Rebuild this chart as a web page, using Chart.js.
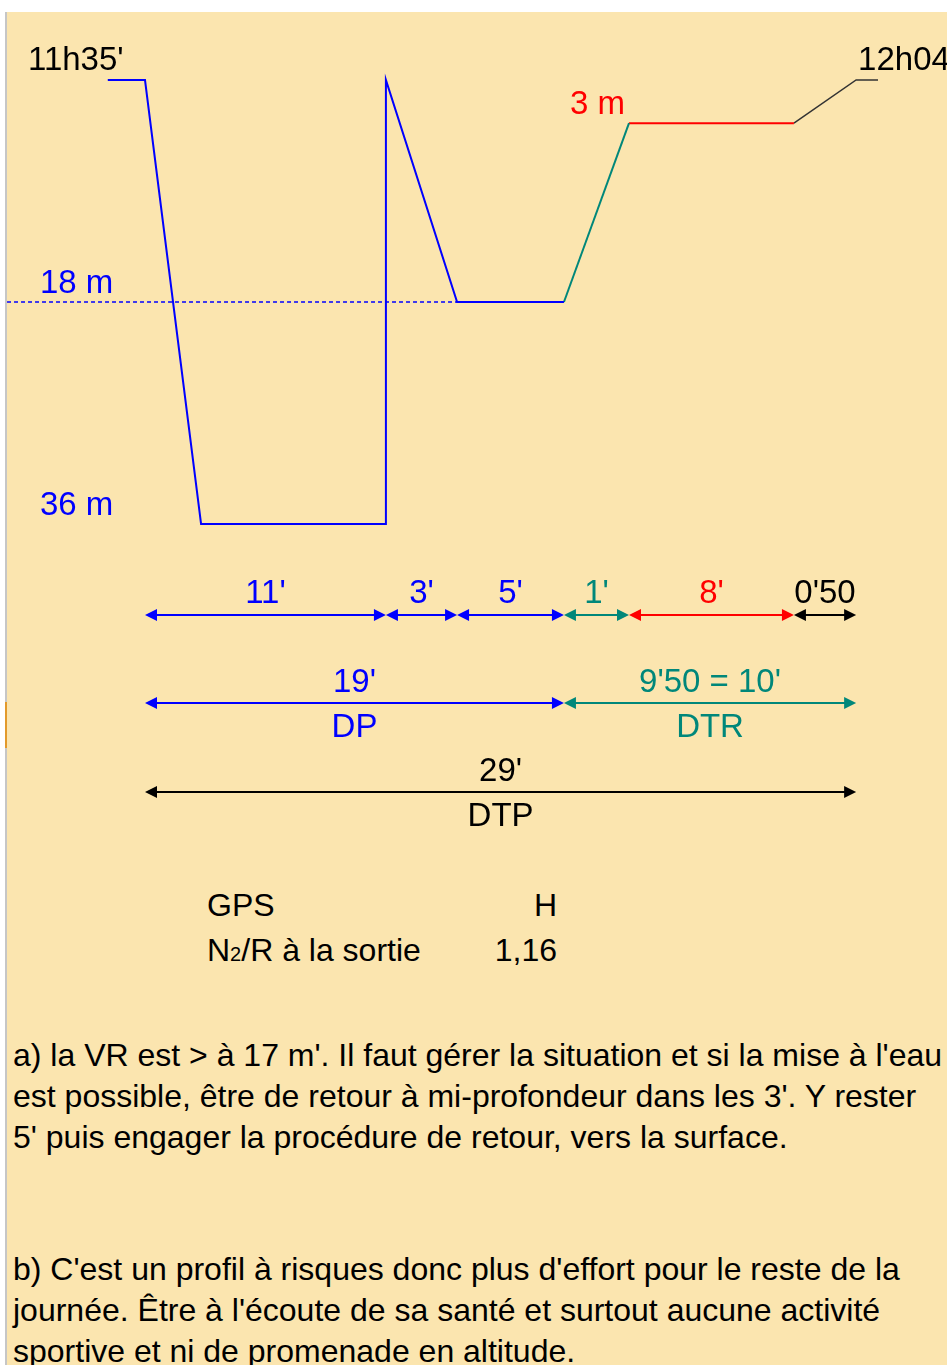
<!DOCTYPE html>
<html>
<head>
<meta charset="utf-8">
<script src="https://cdn.jsdelivr.net/npm/chart.js@4.4.1/dist/chart.umd.min.js"></script>
<style>
  html, body { margin: 0; padding: 0; background: #fff; }
  body { width: 947px; height: 1365px; position: relative; overflow: hidden;
         font-family: "Liberation Sans", Arial, sans-serif; color: #000; }
  #panel { position: absolute; left: 5px; top: 12px; width: 942px; height: 1353px;
           background: #FBE5AF; border-left: 2px solid #C6C6C6; box-sizing: border-box; }
  #mark { position: absolute; left: 5px; top: 702px; width: 2px; height: 46px; background: #E29A2C; }
  #chart { position: absolute; left: 0; top: 0; }
  .txt { position: absolute; white-space: pre; }
  .gps { font-size: 32px; line-height: 45px; }
  .para { font-size: 32px; line-height: 41px; left: 13px; }
  .sub { font-size: 20px; }
</style>
</head>
<body>
<div id="panel"></div>
<div id="mark"></div>
<canvas id="chart" width="947" height="860"></canvas>

<div class="txt gps" style="left:207px; top:883px;">GPS
N<span class="sub">2</span>/R à la sortie</div>
<div class="txt gps" style="right:390px; top:883px; text-align:right;">H
1,16</div>

<div class="txt para" style="top:1035px;">a) la VR est &gt; à 17 m'. Il faut gérer la situation et si la mise à l'eau
est possible, être de retour à mi-profondeur dans les 3'. Y rester
5' puis engager la procédure de retour, vers la surface.</div>

<div class="txt para" style="top:1249px;">b) C'est un profil à risques donc plus d'effort pour le reste de la
journée. Être à l'écoute de sa santé et surtout aucune activité
sportive et ni de promenade en altitude.</div>

<script>
// dive profile: schematic time position (minutes, as drawn) and depth (m)
const timeX  = [-1.7, 0, 2.56, 11, 11, 14.25, 19.13, 22.1, 29.63, 32.47, 33.47];
const depthM = [0, 0, 36, 36, 0, 18, 18, 3.5, 3.5, 0, 0];

// breakpoints of the duration arrows (indices into timeX)
const markIdx   = [1, 3, 5, 6, 7, 8, 9];
const segLabels = ["11'", "3'", "5'", "1'", "8'", "0'50"];

const startLabel = "11h35'";
const endLabel   = "12h04";
const halfDepth  = 18;
const maxDepth   = 36;

const BLUE = '#0000FF', TEAL = '#00877A', RED = '#FF0000', BLACK = '#000000';
const segColors = [BLUE, BLUE, BLUE, TEAL, RED, BLACK];
const FONT = '33px "Liberation Sans", Arial, sans-serif';

function pts(a, b) {
  const out = [];
  for (let i = a; i <= b; i++) out.push({ x: timeX[i], y: depthM[i] });
  return out;
}

function arrow(ctx, x1, x2, y, color) {
  const hl = 12, hw = 6;
  ctx.strokeStyle = color;
  ctx.fillStyle = color;
  ctx.lineWidth = 2;
  ctx.beginPath();
  ctx.moveTo(x1 + hl - 1, y);
  ctx.lineTo(x2 - hl + 1, y);
  ctx.stroke();
  ctx.beginPath();
  ctx.moveTo(x1, y); ctx.lineTo(x1 + hl, y - hw); ctx.lineTo(x1 + hl, y + hw); ctx.closePath();
  ctx.fill();
  ctx.beginPath();
  ctx.moveTo(x2, y); ctx.lineTo(x2 - hl, y - hw); ctx.lineTo(x2 - hl, y + hw); ctx.closePath();
  ctx.fill();
}

function text(ctx, s, x, y, color, align) {
  ctx.fillStyle = color;
  ctx.textAlign = align || 'center';
  ctx.textBaseline = 'alphabetic';
  ctx.fillText(s, x, y);
}

const annotations = {
  id: 'annotations',
  afterDatasetsDraw(chart) {
    const ctx = chart.ctx;
    const xs = chart.scales.x, ys = chart.scales.y;
    const px = v => xs.getPixelForValue(v);
    const py = v => ys.getPixelForValue(v);
    const m = markIdx.map(i => px(timeX[i]));
    ctx.save();
    ctx.font = FONT;

    // times and depths on the profile
    text(ctx, startLabel, 28, py(0) - 10, BLACK, 'left');
    text(ctx, endLabel, px(timeX[9]) + 2, py(0) - 10, BLACK, 'left');
    text(ctx, '3 m', px(timeX[7]) - 4, py(depthM[7]) - 9, RED, 'right');
    text(ctx, halfDepth + ' m', 40, py(halfDepth) - 9, BLUE, 'left');
    text(ctx, maxDepth + ' m', 40, py(maxDepth) - 9, BLUE, 'left');

    // row 1: each phase
    const r1 = 615, r2 = 703, r3 = 792;
    for (let i = 0; i < segLabels.length; i++) {
      arrow(ctx, m[i], m[i + 1], r1, segColors[i]);
      text(ctx, segLabels[i], (m[i] + m[i + 1]) / 2, r1 - 12, segColors[i]);
    }
    // row 2: DP / DTR
    arrow(ctx, m[0], m[3], r2, BLUE);
    text(ctx, "19'", (m[0] + m[3]) / 2, r2 - 11, BLUE);
    text(ctx, 'DP', (m[0] + m[3]) / 2, r2 + 34, BLUE);
    arrow(ctx, m[3], m[6], r2, TEAL);
    text(ctx, "9'50 = 10'", (m[3] + m[6]) / 2, r2 - 11, TEAL);
    text(ctx, 'DTR', (m[3] + m[6]) / 2, r2 + 34, TEAL);
    // row 3: DTP
    arrow(ctx, m[0], m[6], r3, BLACK);
    text(ctx, "29'", (m[0] + m[6]) / 2, r3 - 11, BLACK);
    text(ctx, 'DTP', (m[0] + m[6]) / 2, r3 + 34, BLACK);
    ctx.restore();
  }
};

new Chart(document.getElementById('chart'), {
  type: 'line',
  data: {
    datasets: [
      { data: [{ x: -6.3, y: halfDepth }, { x: timeX[5], y: halfDepth }],
        borderColor: BLUE, borderWidth: 1.5, borderDash: [4, 3] },
      { data: pts(0, 6), borderColor: BLUE, borderWidth: 2 },
      { data: pts(6, 7), borderColor: TEAL, borderWidth: 2 },
      { data: pts(7, 8), borderColor: RED, borderWidth: 2 },
      { data: pts(8, 10), borderColor: '#333333', borderWidth: 1.5 }
    ]
  },
  options: {
    responsive: false,
    animation: false,
    events: [],
    layout: { padding: 0, autoPadding: false },
    elements: { point: { radius: 0 }, line: { tension: 0, fill: false } },
    plugins: { legend: { display: false }, tooltip: { enabled: false } },
    scales: {
      x: { type: 'linear', min: -6.621, max: 36.62, display: false },
      y: { type: 'linear', min: -6.487, max: 63.245, reverse: true, display: false }
    }
  },
  plugins: [annotations]
});
</script>
</body>
</html>
